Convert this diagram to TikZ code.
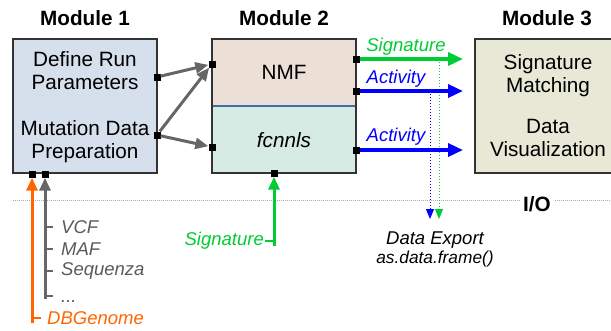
\documentclass[tikz,border=0pt]{standalone}
\usepackage{fontspec}
\setmainfont{Liberation Sans}
\usetikzlibrary{arrows.meta}
\definecolor{mgreen}{RGB}{0,204,51}
\definecolor{mblue}{RGB}{0,0,255}
\definecolor{morange}{RGB}{255,102,0}
\definecolor{mgrey}{RGB}{102,102,102}
\definecolor{tgrey}{RGB}{90,90,90}
\definecolor{fillA}{RGB}{214,223,236}
\definecolor{fillB}{RGB}{236,223,214}
\definecolor{fillC}{RGB}{214,235,228}
\definecolor{fillD}{RGB}{232,232,214}
\definecolor{divline}{RGB}{60,110,170}
\definecolor{ioline}{RGB}{170,170,170}
\begin{document}
\begin{tikzpicture}[x=1pt,y=-1pt,
  box/.style={draw=black!80, line width=2pt, inner sep=0pt},
  bg/.style={inner sep=0pt, draw=none},
  port/.style={fill=black, minimum size=7pt, inner sep=0pt},
  big/.style={font=\fontsize{20.7}{23}\selectfont, align=center, inner sep=0pt},
  title/.style={font=\fontsize{20.7}{23}\selectfont\bfseries, inner sep=0pt},
  lab/.style={font=\fontsize{18.5}{21}\selectfont\itshape, inner sep=0pt},
  garrow/.style={draw=mgrey, line width=3pt, -{Triangle[length=13pt,width=11pt]}},
  oarrow/.style={line width=3.5pt, -{Triangle[length=15pt,width=13pt]}},
  varrow/.style={line width=3pt, -{Triangle[length=13pt,width=11pt]}},
  dotarrow/.style={line width=1pt, dotted, -{Triangle[length=10pt,width=8pt]}},
  tick/.style={line width=2pt},
]
\useasboundingbox (0,0) rectangle (611,330);
\clip (0,0) rectangle (611,330);

% titles
\node[title] (t1) at (85,18) {Module 1};
\node[title] (t2) at (284,18) {Module 2};
\node[title] (t3) at (547,18) {Module 3};

% Module 1
\node[box, fill=fillA, minimum width=144pt, minimum height=134pt] (m1) at (85,106) {};
\node[big] (dr) at (85,71) {Define Run\\Parameters};
\node[big] (mp) at (85,141.5) {Mutation Data\\Preparation};

% Module 2
\node[bg, fill=fillB, minimum width=144pt, minimum height=67pt] (nmfbg) at (284,72.5) {};
\node[bg, fill=fillC, minimum width=144pt, minimum height=67pt] (fcbg) at (284,139.5) {};
\draw[divline, line width=1.5pt] (nmfbg.south west) -- (nmfbg.south east);
\node[box, minimum width=144pt, minimum height=134pt] (m2) at (284,106) {};
\node[big] (nmf) at (284,72) {NMF};
\node[big, font=\fontsize{20.7}{23}\selectfont\itshape] (fc) at (284,140) {fcnnls};

% Module 3
\node[box, fill=fillD, minimum width=150pt, minimum height=134pt] (m3) at (550,106) {};
\node[big] (sm) at (548,75.5) {Signature\\Matching};
\node[big] (dv) at (548,137.5) {Data\\Visualization};

% I/O line
\coordinate (io1) at (13,200);
\coordinate (io2) at (520,200);
\coordinate (io3) at (555,200);
\coordinate (io4) at (611,200);
\draw[ioline, line width=1pt, dash pattern=on 1pt off 1pt] (io1) -- (io2);
\draw[ioline, line width=1pt, dash pattern=on 1pt off 1pt] (io3) -- (io4);
\node[title] (io) at (537,204) {I/O};

% dotted export lines
\coordinate (ds1) at (439,59);
\coordinate (de1) at (439,219);
\coordinate (ds2) at (430,91);
\coordinate (de2) at (430,219);
\draw[dotarrow, mgreen] (ds1) -- (de1);
\draw[dotarrow, mblue] (ds2) -- (de2);
\node[lab] (de) at (435,240) {Data Export};
\node[lab, font=\fontsize{17.3}{20}\selectfont\itshape] (df) at (435,259) {as.data.frame()};

% ports
\node[port] (p1r1) at (157,77) {};
\node[port] (p1r2) at (157,135) {};
\node[port] (p1b1) at (32,174) {};
\node[port] (p1b2) at (45,174) {};
\node[port] (p2l1) at (212,64) {};
\node[port] (p2l2) at (212,147) {};
\node[port] (p2r1) at (356,59) {};
\node[port] (p2r2) at (356,91) {};
\node[port] (p2r3) at (356,150) {};
\node[port] (p2b) at (274,173) {};

% module 1 -> module 2
\draw[garrow] (p1r1) -- (p2l1);
\draw[garrow] (p1r2) -- (p2l1);
\draw[garrow] (p1r2) -- (p2l2);

% outputs
\coordinate (e1) at (463,59);
\coordinate (e2) at (463,91);
\coordinate (e3) at (463,150);
\draw[oarrow, mgreen] (p2r1) -- (e1);
\draw[oarrow, mblue] (p2r2) -- (e2);
\draw[oarrow, mblue] (p2r3) -- (e3);
\node[lab, text=mgreen] (ls) at (406,47) {Signature};
\node[lab, text=mblue] (la1) at (396,79) {Activity};
\node[lab, text=mblue] (la2) at (396,137) {Activity};

% bottom inputs
\coordinate (ob) at (32,323);
\coordinate (ot1) at (32,318);
\coordinate (ot2) at (41,318);
\draw[varrow, morange] (ob) -- (p1b1);
\draw[tick, morange] (ot1) -- (ot2);
\node[lab, text=morange, anchor=west] (dbg) at (47,318) {DBGenome};

\coordinate (gb) at (45,299);
\draw[varrow, mgrey] (gb) -- (p1b2);
\foreach \y/\n in {227/vcf, 249/maf, 271/seq, 296/dots}{
  \coordinate (gt\n) at (45,\y);
  \coordinate (ge\n) at (53,\y);
  \draw[tick, mgrey] (gt\n) -- (ge\n);
}
\node[lab, text=tgrey, anchor=west] (vcf) at (61,227) {VCF};
\node[lab, text=tgrey, anchor=west] (maf) at (61,249) {MAF};
\node[lab, text=tgrey, anchor=west] (seq) at (61,271) {Sequenza};
\node[lab, text=tgrey, anchor=base west] (dots) at (61,302) {...};

\coordinate (sb) at (274,246);
\coordinate (st1) at (274,241);
\coordinate (st2) at (265,241);
\draw[varrow, mgreen] (sb) -- (p2b);
\draw[tick, mgreen] (st1) -- (st2);
\node[lab, text=mgreen, anchor=east] (sig) at (264,241) {Signature};
\end{tikzpicture}
\end{document}
